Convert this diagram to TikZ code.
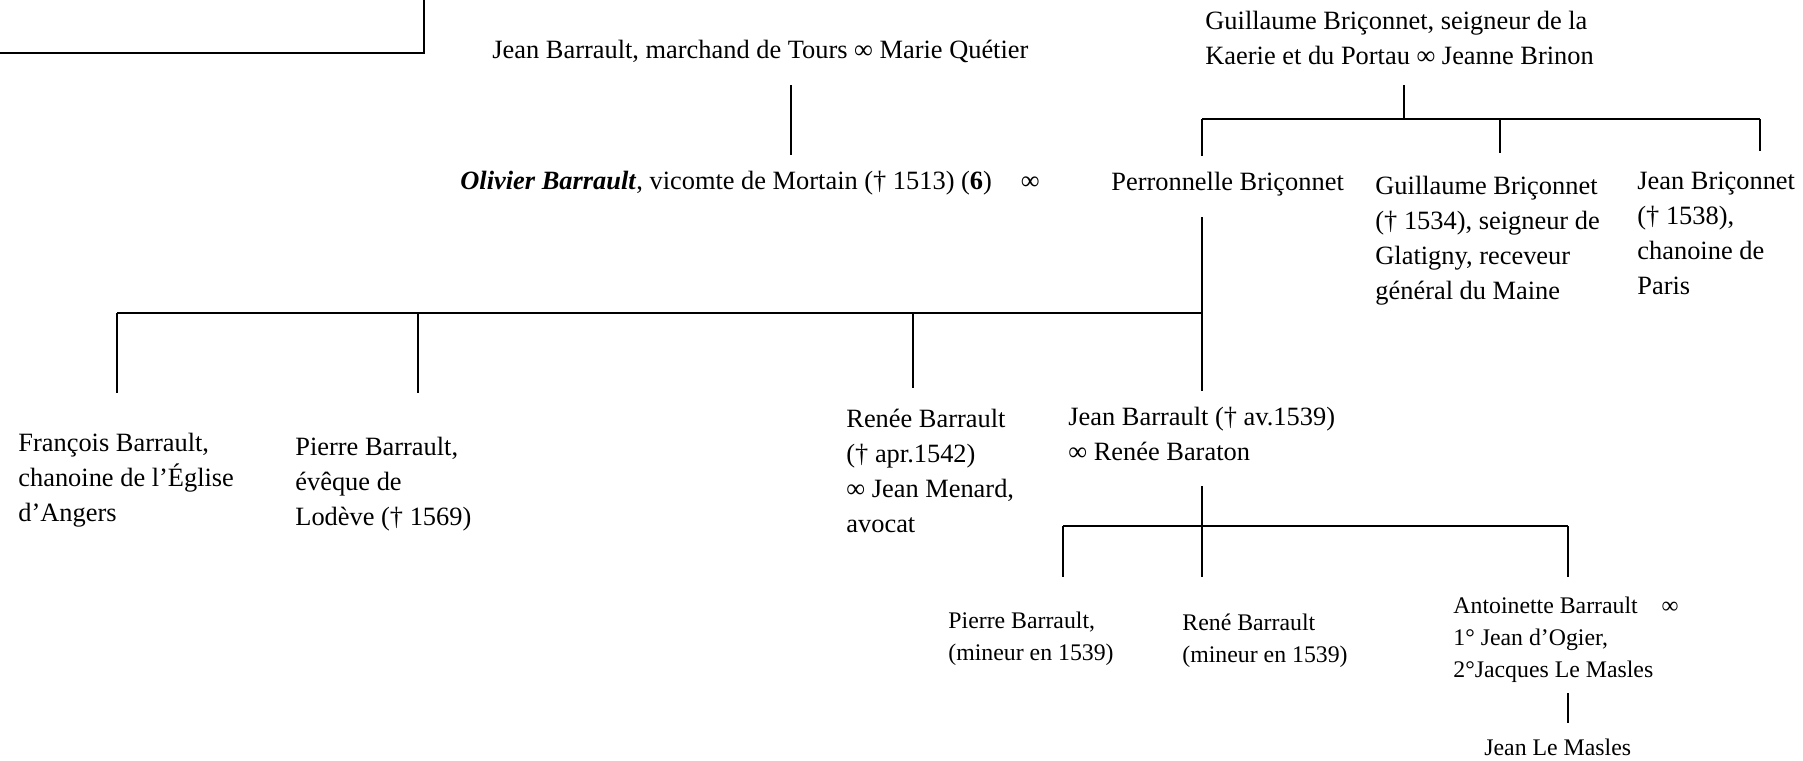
\documentclass[tikz,border=0pt]{standalone}
\usepackage{fontspec}
\setmainfont{Liberation Serif}
\newcommand{\lns}[1]{\begin{tabular}[t]{@{}l@{}}#1\end{tabular}}
\tikzset{
  person/.style={anchor=base west, inner sep=0pt, font=\fontsize{13.2}{17.5}\selectfont},
  smallperson/.style={anchor=base west, inner sep=0pt, font=\fontsize{11.9}{16}\selectfont},
  link/.style={line width=0.9pt},
  bar/.style={line width=1.1pt}
}
\begin{document}
\begin{tikzpicture}[x=0.5pt,y=-0.5pt]
\useasboundingbox (0,0) rectangle (1803,760);
% cut-off frame
\draw[link] (0,53) -- (424,53) -- (424,0);

% generation 1
\node[person] (barrpar) at (492,58) {Jean Barrault, marchand de Tours ∞ Marie Quétier};
\node[person] (bricpar) at (1205,29)
  {\lns{Guillaume Briçonnet, seigneur de la\\Kaerie et du Portau ∞ Jeanne Brinon}};

% generation 2
\node[person] (olivier) at (460,189) {\textbf{\textit{Olivier Barrault}}, vicomte de Mortain († 1513) (\textbf{6})\hspace{1.1em}∞};
\node[person] (perron) at (1111,190) {Perronnelle Briçonnet};
\node[person] (guill) at (1375,194) {\lns{Guillaume Briçonnet\\(† 1534), seigneur de\\Glatigny, receveur\\général du Maine}};
\node[person] (jbric) at (1637,189) {\lns{Jean Briçonnet\\(† 1538),\\chanoine de\\Paris}};

% generation 3
\node[person] (franc) at (18,451) {\lns{François Barrault,\\chanoine de l’Église\\d’Angers}};
\node[person] (pierre) at (295,455) {\lns{Pierre Barrault,\\évêque de\\Lodève († 1569)}};
\node[person] (renee) at (846,427) {\lns{Renée Barrault\\(† apr.1542)\\∞ Jean Menard,\\avocat}};
\node[person] (jean) at (1068,425) {\lns{Jean Barrault († av.1539)\\∞ Renée Baraton}};

% generation 4
\node[smallperson] (pierremin) at (948,628) {\lns{Pierre Barrault,\\(mineur en 1539)}};
\node[smallperson] (rene) at (1182,630) {\lns{René Barrault\\(mineur en 1539)}};
\node[smallperson] (antoin) at (1453,613) {\lns{Antoinette Barrault\hspace{1em}∞\\1° Jean d’Ogier,\\2°Jacques Le Masles}};
\node[smallperson] (lemasles) at (1484,755) {Jean Le Masles};

% Barrault -> Olivier
\coordinate (bt) at (791,85);
\coordinate (bb) at (791,155);
\draw[link] (bt) -- (bb);

% Briconnet -> children
\coordinate (gt) at (1404,85);
\coordinate (gl) at (1202,119);
\coordinate (gr) at (1760,119);
\coordinate (gd1) at (1202,156);
\coordinate (gd2) at (1500,153);
\coordinate (gd3) at (1760,151);
\draw[link] (gt) -- (gt |- gl);
\draw[bar] (gl) -- (gr);
\foreach \c in {gd1,gd2,gd3}
  \draw[link] (\c |- gl) -- (\c);

% Olivier x Perronnelle -> children
\coordinate (pt) at (1202,217);
\coordinate (pb) at (1202,391);
\coordinate (pl) at (117,313);
\coordinate (pd1) at (117,393);
\coordinate (pd2) at (418,393);
\coordinate (pd3) at (913,388);
\draw[link] (pt) -- (pb);
\draw[bar] (pl) -- (pt |- pl);
\foreach \c in {pd1,pd2,pd3}
  \draw[link] (\c |- pl) -- (\c);

% Jean -> children
\coordinate (jt) at (1202,486);
\coordinate (jb) at (1202,577);
\coordinate (jl) at (1063,526);
\coordinate (jr) at (1568,526);
\coordinate (jd1) at (1063,577);
\coordinate (jd2) at (1568,577);
\draw[link] (jt) -- (jb);
\draw[bar] (jl) -- (jr);
\foreach \c in {jd1,jd2}
  \draw[link] (\c |- jl) -- (\c);

% Antoinette -> Jean Le Masles
\coordinate (at) at (1568,693);
\coordinate (ab) at (1568,723);
\draw[link] (at) -- (ab);
\end{tikzpicture}
\end{document}
